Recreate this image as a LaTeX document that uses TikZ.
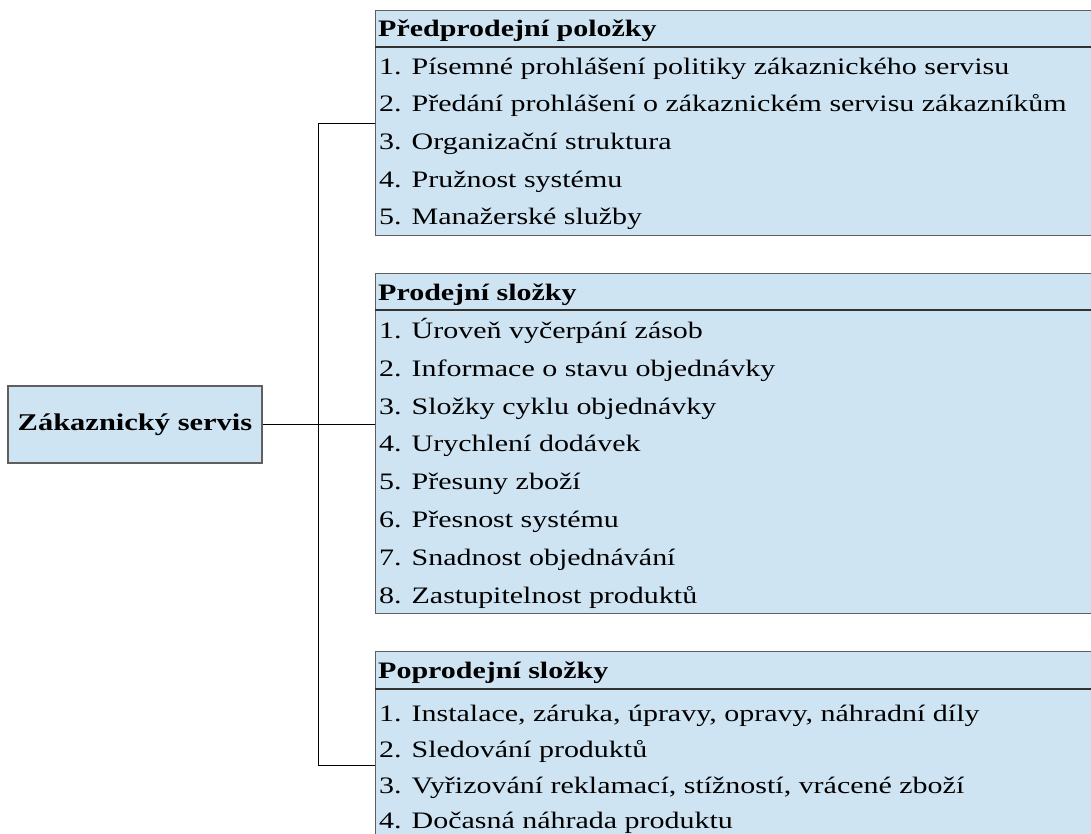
\documentclass[tikz,border=0pt]{standalone}
\usepackage{fontspec}
\setmainfont[FakeStretch=1.27]{Liberation Serif}
\definecolor{boxfill}{RGB}{207,228,243}
\definecolor{boxline}{RGB}{95,95,95}
\definecolor{sepline}{RGB}{50,50,50}
\begin{document}
\begin{tikzpicture}[x=1pt,y=-1pt,
  panel/.style={draw=boxline, line width=1.3pt, fill=boxfill, inner sep=0pt, anchor=north west, minimum width=740pt},
  sep/.style={draw=sepline, line width=1.1pt},
  head/.style={anchor=base west, inner sep=0pt, font=\fontsize{23.6}{27}\selectfont\bfseries},
  item/.style={anchor=base west, inner sep=0pt, font=\fontsize{23.6}{27}\selectfont},
  conn/.style={draw=black, line width=0.9pt}]
\useasboundingbox (0,0) rectangle (1091,834);
\clip (0,0) rectangle (1091,834);

% root
\node[draw=boxline, line width=1.3pt, fill=boxfill, minimum width=254pt, minimum height=77pt, inner sep=0pt,
      font=\fontsize{24}{27}\selectfont\bfseries] (root) at (135,424.5) {Zákaznický servis};

% boxes
\node[panel, minimum height=225pt] (box1) at (375,10) {};
\draw[sep] ([yshift=-37pt]box1.north west) -- ([yshift=-37pt]box1.north east);
\node[panel, minimum height=340pt] (box2) at (375,273) {};
\draw[sep] ([yshift=-37pt]box2.north west) -- ([yshift=-37pt]box2.north east);
\node[panel, minimum height=227pt] (box3) at (375,651) {};
\draw[sep] ([yshift=-38pt]box3.north west) -- ([yshift=-38pt]box3.north east);

% box 1
\node[head] (h1) at (378,37) {Předprodejní položky};
\node[item] (a1) at (379,75) {1. Písemné prohlášení politiky zákaznického servisu};
\node[item] (a2) at (379,112) {2. Předání prohlášení o zákaznickém servisu zákazníkům};
\node[item] (a3) at (379,150) {3. Organizační struktura};
\node[item] (a4) at (379,188) {4. Pružnost systému};
\node[item] (a5) at (379,225) {5. Manažerské služby};

% box 2
\node[head] (h2) at (378,300) {Prodejní složky};
\node[item] (b1) at (379,338) {1. Úroveň vyčerpání zásob};
\node[item] (b2) at (379,376) {2. Informace o stavu objednávky};
\node[item] (b3) at (379,414) {3. Složky cyklu objednávky};
\node[item] (b4) at (379,451) {4. Urychlení dodávek};
\node[item] (b5) at (379,489) {5. Přesuny zboží};
\node[item] (b6) at (379,527) {6. Přesnost systému};
\node[item] (b7) at (379,565) {7. Snadnost objednávání};
\node[item] (b8) at (379,603) {8. Zastupitelnost produktů};

% box 3
\node[head] (h3) at (378,678) {Poprodejní složky};
\node[item] (c1) at (379,721) {1. Instalace, záruka, úpravy, opravy, náhradní díly};
\node[item] (c2) at (379,757) {2. Sledování produktů};
\node[item] (c3) at (379,793) {3. Vyřizování reklamací, stížností, vrácené zboží};
\node[item] (c4) at (379,828) {4. Dočasná náhrada produktu};

% connectors
\draw[conn] (box1.west) -- ++(-57,0) |- (box3.west);
\draw[conn] (root.east) -- (root.east -| box2.west);
\end{tikzpicture}
\end{document}
